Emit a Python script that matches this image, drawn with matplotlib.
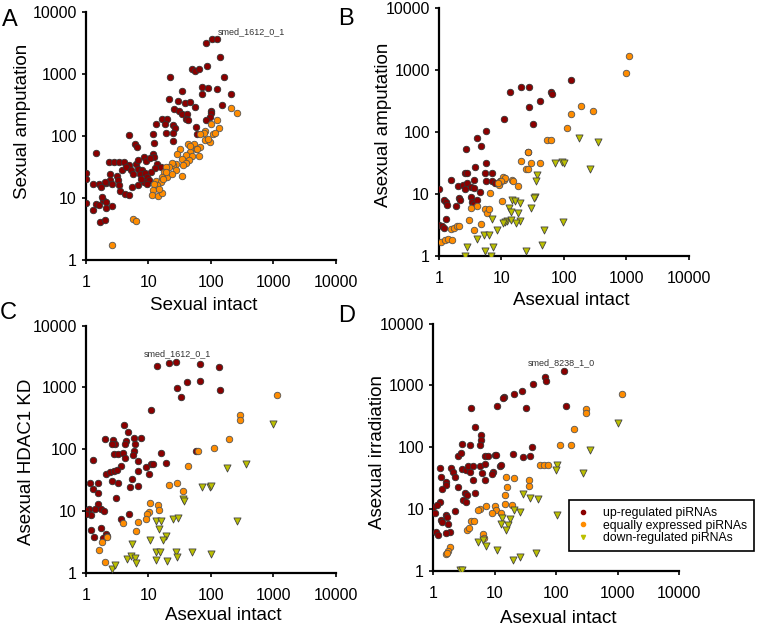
import matplotlib
matplotlib.use('Agg')
import matplotlib.pyplot as plt
from matplotlib.lines import Line2D

plt.rcParams['font.family'] = ['Liberation Sans', 'DejaVu Sans']

# Panel A: Sexual intact vs Sexual amputation
a_up_x = [84, 104, 125, 139, 49, 55, 64, 88, 22, 161, 73, 89, 34, 126, 210, 71, 21, 29.4, 38.5, 46.8,
          55.6, 148, 25.7, 30.9, 35, 42, 39.5, 43.6, 99, 102, 95, 82, 16.3, 20, 13.4, 18.4, 24.7, 26.7, 57,
          4.8, 11.6, 18.9, 24.8, 59, 6.1, 6.5, 12.3, 24.8, 1.44, 2.3, 2.8, 3.4, 4.1, 4.9, 6.3, 6.7, 8.5,
          9.1, 11.6, 12.3, 10.6, 13.9, 15.8, 12.6, 11, 3.8, 4.3, 5.2, 5.6, 6.8, 8.0, 7.3, 8.8, 9.6, 8.5,
          10.3, 9.6, 7.7, 2.4, 3.1, 3.3, 2.4, 2.1, 2.0, 1.28, 1.63, 1.73, 2.6, 3.4, 3.5, 4.25, 4.8, 5.4,
          6.7, 1.0, 1.0, 1.0, 1.28, 1.67, 2.03, 1.44, 1.63, 1.85, 1.8, 2.1, 2.1, 2.6]
a_up_y = [3100, 3600, 3720, 1850, 1180, 1120, 1180, 1340, 895, 895, 620, 585, 527, 569, 470, 470, 400, 368,
          333, 355, 295, 310, 267, 251, 224, 224, 190, 178, 251, 234, 203, 183, 190, 190, 158, 158, 148,
          132, 140, 104, 109, 112, 112, 107, 75, 65, 77, 83, 53, 38, 38, 38, 38, 33.6, 35.6, 40.6, 45.7,
          39.5, 50.5, 45.7, 44.7, 35.6, 30.9, 30, 26, 28.5, 31.5, 27.9, 24, 29.6, 27.9, 24, 25.2, 21.7,
          18, 19.2, 17, 20, 24.6, 22.3, 19.2, 19.2, 17.4, 18, 17, 16.5, 15, 16.5, 15.9, 12.7, 11.7, 11.2,
          15, 15.9, 25, 20, 8.3, 6.3, 4.1, 4.4, 7.9, 7.6, 9.2, 10.3, 8.5, 6.9, 7.3]
a_eq_x = [210, 257, 126, 134, 99, 80, 109, 77, 80, 95, 68, 43.6, 53.6, 57, 47, 50, 39.5, 44.6, 35, 39.5,
          31.6, 29, 35.7, 28, 24.8, 23.6, 21.4, 18.9, 17.8, 20, 16.3, 13.4, 15.8, 13.9, 12.3, 11.6, 11.3,
          14.4, 16.3, 14.8, 34, 28, 23.6, 18.9, 17.1, 66, 91, 115, 60, 46, 64, 5.6, 6.3, 2.6]
a_eq_y = [283, 230, 179, 136, 155, 120, 109, 112, 87, 80, 65, 75, 73, 62, 55, 47, 49, 41, 43, 37, 62,
          50, 34, 34.7, 33.6, 36.6, 31.5, 31, 26, 21.7, 21.7, 18.7, 18, 15.9, 17, 13.2, 11, 10.7, 12.1,
          14, 22.3, 28.5, 24, 26, 20.4, 106, 90, 112, 62, 68, 47, 4.6, 4.3, 1.74]

# Panel B: Asexual intact vs Asexual amputation
b_up_x = [131, 13.9, 20.8, 27.5, 63, 65, 41, 27.5, 10.8, 32, 5.7, 4.0, 4.75, 2.7, 27, 5.7, 3.8, 2.6,
          2.84, 5.4, 7.1, 1.54, 3.7, 5.6, 7.0, 7.8, 9.6, 10.5, 9.1, 2.0, 2.4, 2.84, 3.25, 2.57, 3.6, 4.47,
          1.0, 1.19, 1.31, 1.36, 1.89, 2.09, 2.19, 3.2, 3.4, 3.6, 4.1, 1.28, 1.0, 1.13, 1.2]
b_up_y = [680, 440, 530, 530, 447, 414, 323, 258, 163, 135, 106, 79, 60, 54, 48, 32, 27.5, 22, 21.6, 22,
          22, 16.9, 16.9, 16, 16, 15, 16, 17, 14.5, 13.7, 13.8, 15.3, 13.2, 11.9, 12.6, 10.8, 12, 8.0,
          7.5, 6.7, 6.3, 8.5, 8, 9.1, 7.5, 6.8, 8.0, 3.9, 3.2, 3.0, 2.87]
b_eq_x = [1120, 970, 189, 291, 132, 112, 53, 62, 27, 29.7, 41.8, 20.8, 25, 27, 10.6, 11, 11.5, 9.8, 9.0,
          8.7, 14.9, 15.5, 18.4, 6.5, 10.3, 4.0, 3.3, 5.4, 5.9, 6.3, 3.0, 3.6, 4.75, 1.54, 1.72, 1.94,
          2.09, 1.09, 1.25, 1.39, 1.63]
b_eq_y = [1700, 890, 265, 219, 195, 118, 75, 75, 47, 32, 32, 34.7, 25, 25, 19, 17, 18, 16, 14, 15, 16.9,
          16, 13.5, 10.5, 7.6, 6.5, 5.9, 5.7, 5.0, 5.7, 3.8, 2.6, 3.3, 2.7, 2.8, 3.0, 3.05, 1.7, 1.8,
          1.9, 1.8]
b_dn_x = [174, 350, 71, 94, 101, 264, 37, 36, 35, 33, 14.9, 16.3, 13.2, 14.4, 12.2, 11.2, 19.5, 18.4,
          19.8, 14, 30, 7.1, 8.5, 4.0, 5.2, 6.3, 7.3, 2.8, 5.4, 2.57, 6.7, 25, 48, 45, 96, 16.9, 10.6]
b_dn_y = [81, 70, 31.5, 33.4, 31.5, 25.4, 20.3, 16.3, 9.1, 8.5, 8.0, 7.8, 5.9, 5.2, 3.7, 3.6, 7.3, 4.9,
          3.7, 3.8, 5.9, 3.9, 2.6, 1.86, 2.16, 2.16, 1.41, 1.41, 1.22, 1.0, 1.0, 1.22, 2.63, 1.52, 3.6,
          3.45, 3.45]

# Panel C: Asexual intact vs Asexual HDAC1 KD
c_up_x = [13.9, 21, 28, 66, 134, 42, 67, 28.3, 32.8, 138, 11, 4.1, 4.7, 2.03, 2.66, 2.94, 2.6, 4.35, 5.8,
          7.5, 6.1, 5.8, 4.2, 1.28, 2.76, 3.3, 3.85, 5.6, 6.9, 4.2, 3.6, 15.7, 57, 10.9, 12, 19.4, 9.1,
          10.2, 6.7, 2.08, 2.4, 2.83, 3.1, 2.6, 3.3, 1.16, 1.55, 1.28, 1.55, 5.4, 6.9, 5.1, 3.0, 1.53,
          1.74, 1.96, 1.41, 1.1, 1.04, 1.2, 4.8, 3.6, 1.2, 1.74, 1.33, 2.08, 2.2, 1.9, 1.0, 1.0]
c_up_y = [2200, 2500, 2570, 2370, 2120, 1230, 1260, 970, 685, 910, 427, 245, 190, 147, 143, 119, 119, 138,
          149, 149, 122, 95, 119, 66, 85, 85, 87, 79, 64, 72, 53, 87, 93, 56.5, 56.5, 58.7, 52, 40, 44,
          39, 42.5, 44, 45.7, 30.4, 27.9, 27.9, 27.9, 22.3, 19.6, 33, 25, 24.6, 16.3, 13, 10.8, 9.9, 10.6,
          10.6, 9.6, 8.5, 9.0, 7.3, 4.9, 5.3, 3.8, 4.3, 3.9, 3.7, 10.5, 8.8]
c_eq_x = [1150, 297, 297, 194, 114, 62, 43, 21.4, 28.3, 35.7, 10.6, 14.4, 14.8, 10.2, 9.6, 9.1, 6.7, 6.4,
          3.85, 2.2, 1.8, 1.63, 2.03]
c_eq_y = [740, 363, 295, 147, 105, 93, 53, 26.8, 28.5, 21, 13.5, 12.7, 10.3, 9.6, 8.8, 7.5, 6.6, 4.7, 6.3,
          3.8, 3.1, 2.33, 1.49]
c_dn_x = [990, 366, 180, 73, 98, 102, 35.7, 37, 13.4, 15.7, 14.8, 25, 30, 18.9, 17.1, 10.6, 5.4, 13.1,
          15.2, 27.3, 28.3, 49, 102, 263, 4.46, 5.2, 6.1, 6.3, 13.1, 20, 2.6, 2.94]
c_dn_y = [257, 56.5, 48.7, 24.6, 24, 25.2, 15.7, 14.4, 7.0, 7.0, 5.1, 7.5, 7.7, 3.9, 3.4, 3.4, 2.95, 2.16,
          2.16, 2.16, 1.79, 2.16, 1.98, 7.0, 1.68, 1.9, 1.73, 1.45, 1.64, 1.55, 1.16, 1.35]

# Panel D: Asexual intact vs Asexual irradiation
d_up_x = [135, 65, 68, 42, 28, 21, 14.3, 13.7, 144, 11, 33, 4.2, 4.9, 6.0, 6.1, 2.96, 3.95, 5.7, 41, 29,
          38, 20, 2.55, 2.9, 6.9, 7.8, 10, 10.5, 5.7, 6.9, 1.28, 1.36, 1.99, 2.1, 2.25, 3.0, 3.5, 3.7,
          3.95, 4.47, 9.5, 9.2, 12.1, 12.9, 6.3, 6.9, 4.47, 1.65, 1.65, 1.41, 2.55, 3.27, 3.6, 4.76, 3.08,
          3.4, 1.28, 1.0, 1.16, 1.06, 2.25, 1.6, 1.69, 1.36, 1.75, 1.42, 1.87, 1.65, 1.13, 1.2]
d_up_y = [1700, 1365, 1160, 1070, 800, 720, 650, 625, 474, 468, 440, 440, 211, 158, 132, 112, 109, 109,
          102, 69, 71, 78, 71, 82, 71, 72, 75, 74, 49, 54, 47, 33, 47, 40, 33, 44, 42.7, 49, 40, 49, 40,
          37, 49, 51, 38, 30, 30, 27.7, 24.5, 20.9, 23, 18.4, 16.9, 18.4, 14, 13.2, 13.2, 11, 11.6, 8.5,
          9.3, 8.0, 7.5, 6.6, 5.7, 6.2, 4.3, 4.1, 4.3, 3.8]
d_eq_x = [1170, 302, 302, 198, 115, 178, 54, 64, 74, 37, 36, 21, 15.6, 16, 14.6, 14.6, 19.3, 10, 10.7,
          12.6, 9.2, 7.2, 5.7, 5.4, 4.2, 4.6, 3.6, 3.85, 6.5, 6.7, 1.87, 1.75, 1.6, 1.7]
d_eq_y = [720, 413, 363, 200, 109, 109, 52, 52, 52, 29.5, 23.6, 32, 33, 23, 16.9, 12, 11.6, 11.2, 9.6,
          8.7, 8.5, 11.2, 10.2, 9.6, 6.4, 6.4, 4.6, 4.9, 4.0, 3.35, 2.45, 2.1, 1.86, 1.95]
d_dn_x = [1000, 354, 275, 104, 99, 29, 38, 51, 104, 20.5, 26.3, 13.2, 17.6, 16.6, 15.2, 12.9, 5.4, 6.5,
          7.2, 11, 20, 26.3, 46.5, 2.78, 3.0]
d_dn_y = [245, 90, 38, 52, 43, 17.3, 14.9, 14.4, 8.0, 9.6, 9.1, 7.1, 6.8, 5.5, 4.6, 5.7, 2.95, 3.2, 2.5,
          2.16, 1.49, 1.69, 1.96, 1.05, 1.05]

legend_labels = ['up-regulated piRNAs', 'equally expressed piRNAs', 'down-regulated piRNAs']

c_up = '#8b0000'
c_eq = '#ff8c00'
c_dn = '#bcc000'

fig = plt.figure(figsize=(7.64, 6.26), dpi=100)

# letter, axes rect, xlabel, ylabel, xlabel coords, ylabel coords, data..., annotation
panels = [
    ('A', [0.1126, 0.585, 0.327, 0.396], 'Sexual intact', 'Sexual amputation', (0.47, -0.15), (-0.22, 0.56),
     a_up_x, a_up_y, a_eq_x, a_eq_y, [], [], ('smed_1612_0_1', 129, 4800)),
    ('B', [0.5746, 0.591, 0.327, 0.396], 'Asexual intact', 'Asexual amputation', (0.53, -0.145), (-0.19, 0.53),
     b_up_x, b_up_y, b_eq_x, b_eq_y, b_dn_x, b_dn_y, None),
    ('C', [0.1126, 0.085, 0.327, 0.395], 'Asexual intact', 'Asexual HDAC1 KD', (0.55, -0.14), (-0.205, 0.45),
     c_up_x, c_up_y, c_eq_x, c_eq_y, c_dn_x, c_dn_y, ('smed_1612_0_1', 8.5, 3500)),
    ('D', [0.5668, 0.088, 0.322, 0.395], 'Asexual intact', 'Asexual irradiation', (0.51, -0.16), (-0.19, 0.48),
     d_up_x, d_up_y, d_eq_x, d_eq_y, d_dn_x, d_dn_y, ('smed_8238_1_0', 35, 2350)),
]

letter_pos = {'A': (0.002, 0.985), 'B': (0.443, 0.988), 'C': (0.0, 0.518), 'D': (0.443, 0.513)}

for letter, pos, xl, yl, xlc, ylc, ux, uy, ex, ey, dx, dy, note in panels:
    ax = fig.add_axes(pos)
    ax.set_xscale('log')
    ax.set_yscale('log')
    ax.set_xlim(1, 10000)
    ax.set_ylim(1, 10000)
    ax.scatter(ux, uy, s=22, c=c_up, edgecolors='#333333', linewidths=0.6, zorder=3)
    ax.scatter(ex, ey, s=22, c=c_eq, edgecolors='#555555', linewidths=0.6, zorder=3)
    if dx:
        ax.scatter(dx, dy, s=26, marker='v', c=c_dn, edgecolors='#444444', linewidths=0.6, zorder=3)
    ax.set_xticks([1, 10, 100, 1000, 10000])
    ax.set_yticks([1, 10, 100, 1000, 10000])
    ax.set_xticklabels(['1', '10', '100', '1000', '10000'])
    ax.set_yticklabels(['1', '10', '100', '1000', '10000'])
    ax.minorticks_off()
    ax.tick_params(labelsize=11.5, length=3, width=1.2)
    ax.tick_params(axis='x', pad=8)
    ax.set_xlabel(xl, fontsize=13.5)
    ax.set_ylabel(yl, fontsize=13.5)
    ax.xaxis.set_label_coords(*xlc)
    ax.yaxis.set_label_coords(*ylc)
    for side in ['top', 'right']:
        ax.spines[side].set_visible(False)
    for side in ['left', 'bottom']:
        ax.spines[side].set_linewidth(1.6)
    if note:
        ax.text(note[1], note[2], note[0], fontsize=6.5, color='#333333', va='center')
    fig.text(letter_pos[letter][0], letter_pos[letter][1], letter, fontsize=17, va='top')

    if letter == 'D':
        handles = [
            Line2D([], [], ls='', marker='o', ms=3, mfc=c_up, mec=c_up),
            Line2D([], [], ls='', marker='o', ms=3, mfc=c_eq, mec=c_eq),
            Line2D([], [], ls='', marker='v', ms=3, mfc=c_dn, mec=c_dn),
        ]
        leg = ax.legend(handles, legend_labels, loc='lower left', fontsize=8.8,
                        bbox_to_anchor=(0.745, 0.12), bbox_transform=fig.transFigure,
                        fancybox=False, framealpha=1, edgecolor='black',
                        handlelength=1.2, handletextpad=1.0, labelspacing=0.05,
                        borderpad=0.55, borderaxespad=0)
        leg.get_frame().set_linewidth(1.2)

fig.savefig('out.png', dpi=100)
